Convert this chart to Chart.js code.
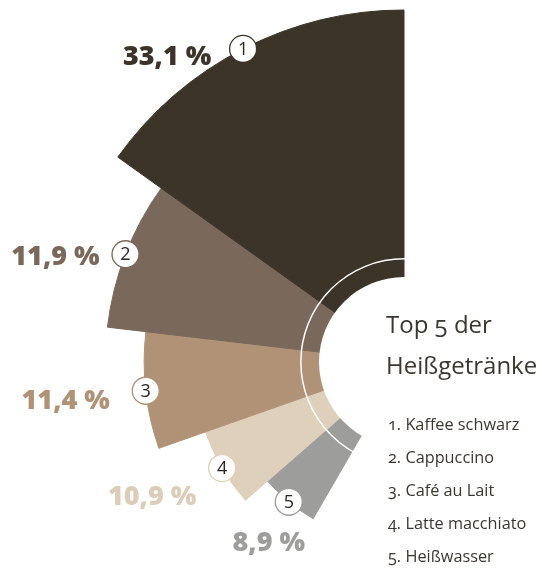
<!DOCTYPE html>
<html lang="de">
<head>
<meta charset="utf-8">
<title>Top 5 der Heißgetränke</title>
<script src="https://cdn.jsdelivr.net/npm/chart.js@4.4.1/dist/chart.umd.min.js"></script>
<style>
  html, body { margin: 0; padding: 0; background: #fff; overflow: hidden; }
  #wrap { position: relative; width: 542px; height: 576px; }
  #chart { position: absolute; left: 0; top: 0; }
  .titel {
    position: absolute; left: 386px; top: 303px; margin: 0;
    font: 24px/41px "Open Sans", sans-serif; color: #3b3630;
    font-feature-settings: "onum";
  }
  .liste {
    position: absolute; left: 388px; top: 408px; margin: 0; padding: 0;
    list-style: none; font: 16.3px/33px "Open Sans", sans-serif; color: #3b3630;
    font-feature-settings: "onum"; white-space: nowrap;
  }
</style>
</head>
<body>
<div id="wrap">
  <canvas id="chart" width="542" height="576"></canvas>
  <div class="titel">Top 5 der<br>Heißgetränke</div>
  <ul class="liste" id="liste"></ul>
</div>
<script>
// Daten (von oben nach unten im Fächer)
const labels = ['Kaffee schwarz', 'Cappuccino', 'Café au Lait', 'Latte macchiato', 'Heißwasser'];
const shares = [33.1, 11.9, 11.4, 10.9, 8.9];        // Prozent, als Beschriftung
const barLength = [100, 80, 65.5, 47, 36];           // Balkenlänge ab Innenkreis (relativ)
const sliceAngle = [54.4, 28.9, 26.1, 21.7, 18.8];   // Winkel je Segment in Grad
const colors = ['#3c3428', '#7a685b', '#b09377', '#dfd0bc', '#9d9d9c'];
const labelColors = ['#3c3428', '#7a685b', '#b09377', '#dccdb9', '#9d9d9c'];

// Lage der Prozentzahlen relativ zum Nummernkreis
const labelOffset = [[-76, 16], [-70, 11], [-80, 18], [-70, 37], [-20, 49]];

const n = labels.length;

// Legende rechts
const liste = document.getElementById('liste');
labels.forEach((l, i) => {
  const li = document.createElement('li');
  li.textContent = (i + 1) + '. ' + l;
  liste.appendChild(li);
});

// Chart.js zeichnet im Uhrzeigersinn, daher umgekehrte Reihenfolge
const rev = a => a.slice().reverse();

const aufsatz = {
  id: 'aufsatz',
  afterDatasetsDraw(chart) {
    const ctx = chart.ctx;
    const r = chart.scales.r;
    const cx = r.xCenter, cy = r.yCenter;
    ctx.save();
    // Innenkreis freistellen
    ctx.fillStyle = '#fff';
    ctx.beginPath();
    ctx.arc(cx, cy, r.getDistanceFromCenterForValue(0), 0, Math.PI * 2);
    ctx.fill();
    // dünner weißer Ring
    ctx.strokeStyle = '#fff';
    ctx.lineWidth = 1.5;
    ctx.beginPath();
    ctx.arc(cx, cy, r.getDistanceFromCenterForValue(6.8), 0, Math.PI * 2);
    ctx.stroke();

    const arcs = chart.getDatasetMeta(0).data;
    arcs.forEach((arc, i) => {
      const k = n - 1 - i;
      const mid = (arc.startAngle + arc.endAngle) / 2;
      const px = arc.x + Math.cos(mid) * arc.outerRadius;
      const py = arc.y + Math.sin(mid) * arc.outerRadius;

      // Nummernkreis
      ctx.beginPath();
      ctx.arc(px, py, 13.5, 0, Math.PI * 2);
      ctx.fillStyle = '#fff';
      ctx.fill();
      ctx.lineWidth = 1.3;
      ctx.strokeStyle = colors[k];
      ctx.stroke();
      ctx.fillStyle = '#2b2620';
      ctx.font = '18px "Open Sans", sans-serif';
      ctx.textAlign = 'center';
      ctx.textBaseline = 'middle';
      ctx.fillText(String(k + 1), px, py + 1);

      // Prozentwert
      ctx.font = '800 27px "Open Sans", sans-serif';
      ctx.textBaseline = 'alphabetic';
      ctx.fillStyle = labelColors[k];
      const txt = shares[k].toFixed(1).replace('.', ',') + ' %';
      ctx.fillText(txt, px + labelOffset[k][0], py + labelOffset[k][1]);
    });
    ctx.restore();
  }
};

// Skala so, dass Wert 0 am Innenkreis liegt
const maxLen = 100;
const holePx = 85, outerPx = 352, areaPx = 138;
const pxPerUnit = (outerPx - holePx) / maxLen;
const rMin = -holePx / pxPerUnit;
const rMax = rMin + areaPx / pxPerUnit;

new Chart(document.getElementById('chart'), {
  type: 'polarArea',
  data: {
    labels: rev(labels),
    datasets: [{
      data: rev(barLength),
      angle: rev(sliceAngle),
      backgroundColor: rev(colors),
      borderColor: rev(colors),
      borderWidth: 1,
      clip: false
    }]
  },
  options: {
    responsive: false,
    animation: false,
    events: [],
    layout: { padding: { left: 266, right: 0, top: 224, bottom: 76 } },
    plugins: {
      legend: { display: false },
      tooltip: { enabled: false }
    },
    scales: {
      r: {
        display: false,
        min: rMin,
        max: rMax,
        startAngle: 210.1
      }
    }
  },
  plugins: [aufsatz]
});
</script>
</body>
</html>
